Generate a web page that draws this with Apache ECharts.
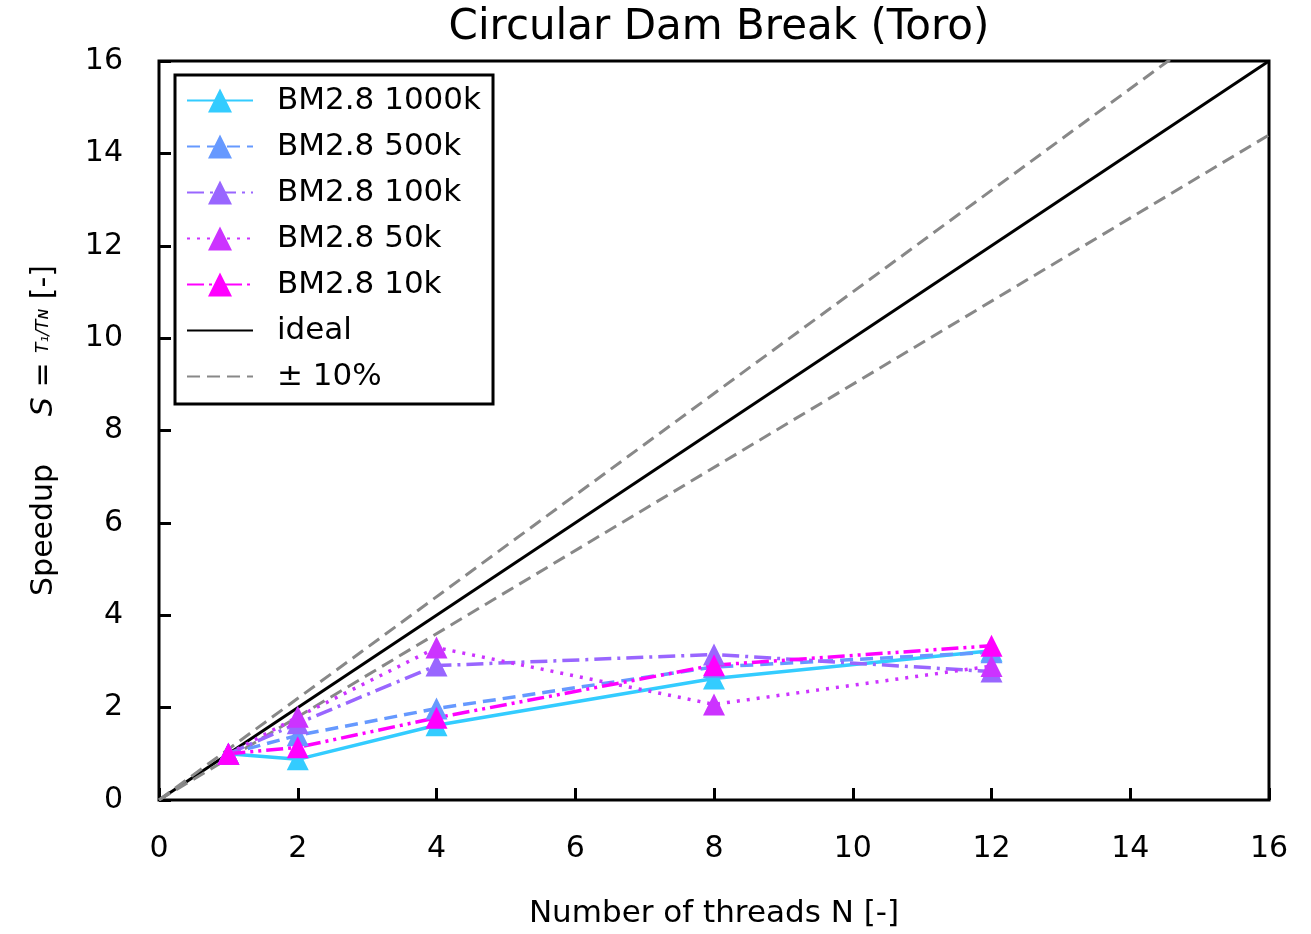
<!DOCTYPE html>
<html>
<head>
<meta charset="utf-8">
<script src="https://cdn.jsdelivr.net/npm/echarts@6/dist/echarts.min.js"></script>
<style>
  html, body { margin: 0; padding: 0; background: #fff; }
  #chart { width: 1311px; height: 934px; }
</style>
</head>
<body>
<div id="chart"></div>
<script>
const threads = [1, 2, 4, 8, 12];
const bm1000k = [1.0, 0.88, 1.62, 2.63, 3.23];
const bm500k = [1.0, 1.40, 1.98, 2.88, 3.20];
const bm100k = [1.0, 1.66, 2.91, 3.15, 2.78];
const bm50k = [1.0, 1.80, 3.30, 2.07, 2.90];
const bm10k = [1.0, 1.14, 1.78, 2.92, 3.34];
const xTicks = [0, 2, 4, 6, 8, 10, 12, 14, 16];
const idealX = [0, 16];

const font = 'DejaVu Sans';
const chart = echarts.init(document.getElementById('chart'));

function pts(vals) {
  return threads.map((t, i) => [t, vals[i]]);
}

function dataSeries(name, vals, color, dash) {
  return {
    name: name,
    type: 'line',
    data: pts(vals),
    symbol: 'triangle',
    symbolSize: 22,
    itemStyle: { color: color },
    lineStyle: { color: color, width: 3.5, type: dash },
    z: 5
  };
}

chart.setOption({
  animation: false,
  title: {
    text: 'Circular Dam Break (Toro)',
    left: 714,
    textAlign: 'center',
    top: 2,
    textStyle: { fontFamily: font, fontSize: 42, fontWeight: 'normal', color: '#000' }
  },
  grid: {
    left: 159, right: 42, top: 61, bottom: 131,
    show: true, borderColor: '#000', borderWidth: 3
  },
  legend: {
    data: [
      'BM2.8 1000k', 'BM2.8 500k', 'BM2.8 100k', 'BM2.8 50k', 'BM2.8 10k',
      { name: 'ideal', itemStyle: { opacity: 0 } },
      { name: '± 10%', itemStyle: { opacity: 0 } }
    ],
    orient: 'vertical',
    left: 175, top: 75,
    padding: [10, 12, 12, 11],
    itemWidth: 66, itemHeight: 30, itemGap: 15,
    backgroundColor: '#fff',
    borderColor: '#000', borderWidth: 3,
    textStyle: { fontFamily: font, fontSize: 31, color: '#000', padding: [0, 0, 0, 19] }
  },
  xAxis: {
    type: 'value',
    min: 0, max: 16, interval: 2,
    name: 'Number of threads N [-]',
    nameLocation: 'middle',
    nameGap: 98,
    nameTextStyle: { fontFamily: font, fontSize: 31, color: '#000' },
    axisLine: { show: false },
    axisTick: { inside: true, length: 12, lineStyle: { color: '#000', width: 3 } },
    axisLabel: {
      fontFamily: font, fontSize: 30, color: '#000', margin: 34,
      formatter: v => xTicks.includes(v) ? String(v) : ''
    },
    splitLine: { show: false }
  },
  yAxis: {
    type: 'value',
    min: 0, max: 16, interval: 2,
    name: '{n|Speedup}     {i|S} = {f|T₁/Tɴ} [-]',
    nameLocation: 'middle',
    nameRotate: 90,
    nameGap: 100,
    nameTextStyle: {
      fontFamily: font, fontSize: 30, color: '#000',
      rich: {
        n: { fontFamily: font, fontSize: 30 },
        i: { fontFamily: font, fontSize: 30, fontStyle: 'italic' },
        f: { fontFamily: font, fontSize: 17, fontStyle: 'italic' }
      }
    },
    axisLine: { show: false },
    axisTick: { inside: true, length: 12, lineStyle: { color: '#000', width: 3 } },
    axisLabel: { fontFamily: font, fontSize: 30, color: '#000', margin: 36 },
    splitLine: { show: false }
  },
  series: [
    {
      name: 'ideal', type: 'line', symbol: 'none',
      data: idealX.map(x => [x, x]),
      lineStyle: { color: '#000', width: 3 },
      itemStyle: { color: '#000' },
      z: 3
    },
    {
      name: '± 10%', type: 'line', symbol: 'none',
      data: idealX.map(x => [x, 1.1 * x]),
      lineStyle: { color: '#888', width: 3, type: [13, 7] },
      itemStyle: { color: '#888' },
      z: 3
    },
    {
      name: '± 10%', type: 'line', symbol: 'none',
      data: idealX.map(x => [x, 0.9 * x]),
      lineStyle: { color: '#888', width: 3, type: [13, 7] },
      itemStyle: { color: '#888' },
      z: 3
    },
    dataSeries('BM2.8 1000k', bm1000k, '#33ccff', 'solid'),
    dataSeries('BM2.8 500k', bm500k, '#6699ff', [13, 7]),
    dataSeries('BM2.8 100k', bm100k, '#9966ff', [17, 6, 3, 6]),
    dataSeries('BM2.8 50k', bm50k, '#cc33ff', [3, 7]),
    dataSeries('BM2.8 10k', bm10k, '#ff00ff', [17, 5, 3, 5, 3, 5])
  ]
});

window.addEventListener('resize', () => chart.resize());
</script>
</body>
</html>
